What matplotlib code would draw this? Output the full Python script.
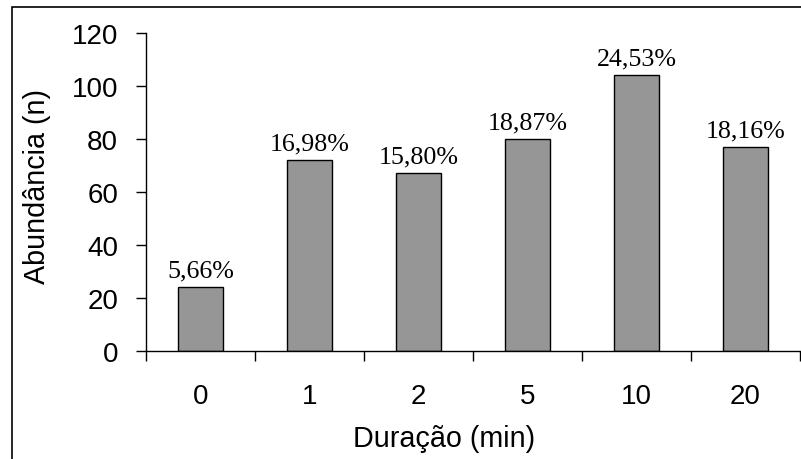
import matplotlib
matplotlib.use("Agg")
import matplotlib.pyplot as plt
from matplotlib.patches import Rectangle

categories = ["0", "1", "2", "5", "10", "20"]
abundance = [24, 72, 67, 80, 104, 77]
percent_labels = ["5,66%", "16,98%", "15,80%", "18,87%", "24,53%", "18,16%"]
y_ticks = [0, 20, 40, 60, 80, 100, 120]

fig = plt.figure(figsize=(8.01, 4.60), dpi=100)
ax = fig.add_axes([146/801, 1-352/460, (800-146)/801, (352-34)/460])

x = list(range(len(categories)))
bars = ax.bar(x, abundance, width=0.41, color="#969696", edgecolor="black", linewidth=1.0)

for xi, v, lab in zip(x, abundance, percent_labels):
    ax.annotate(lab, (xi, v), xytext=(0, 4), textcoords="offset points",
                ha="center", va="bottom", fontsize=18.7, family="Liberation Serif")

ax.set_xlim(-0.5, len(categories) - 0.5)
ax.set_ylim(0, 120)
ax.set_yticks(y_ticks)
ax.set_yticklabels([str(t) for t in y_ticks], fontsize=20, family="Liberation Sans")
ax.set_xticks([i - 0.5 for i in range(len(categories) + 1)])
ax.set_xticklabels([])
ax.set_xticks(x, minor=True)
ax.set_xticklabels(categories, minor=True, fontsize=20, family="Liberation Sans")
ax.tick_params(axis="x", which="major", direction="out", length=7, width=1)
ax.tick_params(axis="x", which="minor", length=0, pad=23)
ax.tick_params(axis="y", direction="out", length=7, width=1, pad=13)

for s in ["top", "right"]:
    ax.spines[s].set_visible(False)
for s in ["left", "bottom"]:
    ax.spines[s].set_linewidth(1)

fig.text(444/801, 1 - 447/460, "Duração (min)", fontsize=20.7,
         family="Liberation Sans", ha="center", va="baseline")
fig.text(45/801, 1 - 187/460, "Abundância (n)", fontsize=20.7,
         family="Liberation Sans", ha="center", va="baseline",
         rotation=90, rotation_mode="anchor")

fig.patches.append(Rectangle((12/801, -0.1), 1.2, (1 - 8/460) + 0.1,
                             transform=fig.transFigure, fill=False,
                             edgecolor="black", linewidth=1.2))

fig.savefig("out.png", dpi=100)
